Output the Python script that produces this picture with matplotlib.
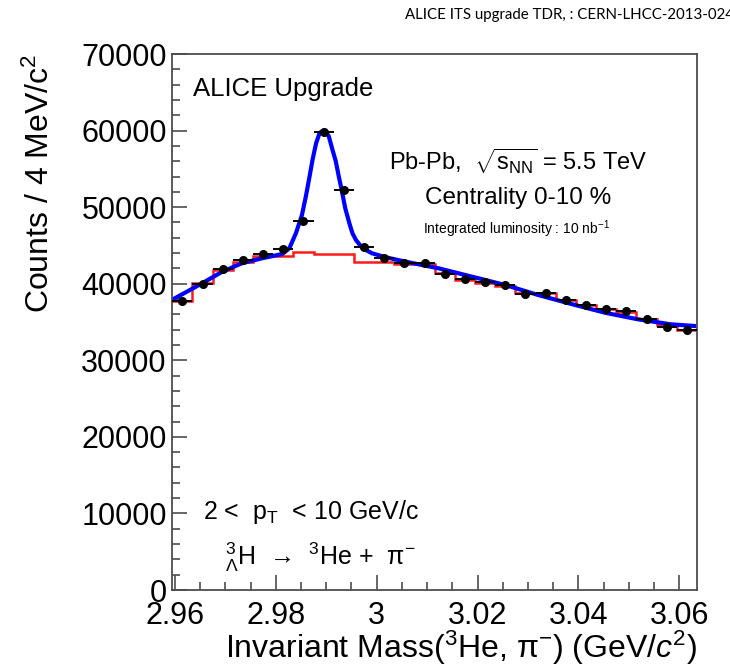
import numpy as np
import matplotlib
matplotlib.use("Agg")
import matplotlib.pyplot as plt
from matplotlib.ticker import MultipleLocator

plt.rcParams['font.family'] = ['Liberation Sans', 'DejaVu Sans']
plt.rcParams['mathtext.fontset'] = 'custom'
plt.rcParams['mathtext.rm'] = 'Liberation Sans'
plt.rcParams['mathtext.it'] = 'Liberation Sans:italic'
plt.rcParams['mathtext.sf'] = 'Liberation Sans'

# histogram binning (4 MeV bins)
x_lo = 2.9595
bin_w = 0.004
n_bins = 26

# data points (signal + background), counts per bin
data_counts = [37740, 39960, 41920, 43100, 43880, 44530, 48190, 59810, 52240,
               44795, 43360, 42710, 42710, 41330, 40620, 40220, 39830, 38660,
               38830, 37870, 37260, 36740, 36400, 35430, 34390, 33960]

# background only (red histogram)
bkg_counts = [37740, 40090, 41790, 42880, 43620, 43620, 44180, 43880, 43880,
              42880, 42800, 42540, 42540, 41400, 40480, 40130, 39700, 38830,
              38830, 37870, 37220, 36700, 36350, 35390, 34610, 33960]

# fit curve (blue)
fit_mass = [2.9596, 2.9654, 2.9694, 2.9733, 2.9773, 2.9813, 2.9827, 2.9840,
            2.9852, 2.9860, 2.9867, 2.9873, 2.9880, 2.9887, 2.9894, 2.9900,
            2.9905, 2.9912, 2.9919, 2.9925, 2.9930, 2.9938, 2.9946, 2.9952,
            2.9959, 2.9972, 2.9991, 3.0018, 3.0051, 3.0090, 3.0123, 3.0189,
            3.0255, 3.0320, 3.0386, 3.0452, 3.0518, 3.0583, 3.0630]
fit_counts = [37950, 40050, 41570, 42670, 43320, 43880, 44630, 46590,
              48980, 51500, 53980, 56200, 58340, 59700, 60000, 59700,
              59300, 57600, 56000, 54000, 52460, 49800, 47890, 46600,
              45710, 44630, 43970, 43450, 42970, 42440, 42010, 40920,
              39830, 38530, 37350, 36220, 35350, 34700, 34480]

xticks = [2.96, 2.98, 3.0, 3.02, 3.04, 3.06]
xtick_labels = ['2.96', '2.98', '3', '3.02', '3.04', '3.06']
yticks = [0, 10000, 20000, 30000, 40000, 50000, 60000, 70000]

edges = x_lo + bin_w * np.arange(n_bins + 1)
centers = 0.5 * (edges[:-1] + edges[1:])

W, H = 730, 666
fig = plt.figure(figsize=(W / 100, H / 100), dpi=100)
ax = fig.add_axes([172.3 / W, 1 - 590 / H, (697 - 172.3) / W, (590 - 54) / H])

ax.stairs(bkg_counts, edges, color='#ff1a1a', linewidth=1.8, baseline=None)
ax.plot(fit_mass, fit_counts, color='#0000ff', linewidth=3.0)
ax.errorbar(centers, data_counts, xerr=bin_w / 2, fmt='o', color='black',
            markersize=5.5, elinewidth=1.4, capsize=0, zorder=5)

ax.set_xlim(edges[0], edges[-1])
ax.set_ylim(0, 70000)
ax.set_xticks(xticks)
ax.set_xticklabels(xtick_labels)
ax.set_yticks(yticks)
ax.xaxis.set_minor_locator(MultipleLocator(0.005))
ax.yaxis.set_minor_locator(MultipleLocator(2000))
ax.tick_params(which='both', direction='in', top=False, right=False,
               color='0.3', width=1.2, labelsize=22)
ax.tick_params(which='major', length=11)
ax.tick_params(which='minor', length=5.5)
ax.tick_params(axis='x', pad=8)
ax.tick_params(axis='y', pad=4)
for s in ax.spines.values():
    s.set_color('0.3')
    s.set_linewidth(1.3)

# axis titles
fig.text(40 / W, 1 - 54 / H, r'Counts / 4 MeV/c$^{2}$', rotation=90,
         ha='center', va='top', fontsize=23)
fig.text(697 / W, 1 - 648 / H,
         r'Invariant Mass($^{3}$He, π$^{-}$) (GeV/$c^{2}$)',
         ha='right', va='center', fontsize=23)

# labels inside the frame
fig.text(193 / W, 1 - 89 / H, 'ALICE Upgrade', ha='left', va='center',
         fontsize=18.5)
fig.text(518 / W, 1 - 161 / H, r'Pb-Pb,  $\sqrt{\mathrm{s}_{\rm NN}}$ = 5.5 TeV',
         ha='center', va='center', fontsize=17)
fig.text(518 / W, 1 - 198 / H, 'Centrality 0-10 %', ha='center',
         va='center', fontsize=17.5)
fig.text(517 / W, 1 - 229 / H, r'Integrated luminosity : 10 nb$^{-1}$',
         ha='center', va='center', fontsize=10)
fig.text(203 / W, 1 - 512 / H, r'2 <  p$_{\rm T}$  < 10 GeV/c', ha='left',
         va='center', fontsize=18)
fig.text(225 / W, 1 - 557 / H,
         r'$^{3}_{\Lambda}$H  →  $^{3}$He +  π$^{-}$',
         ha='left', va='center', fontsize=18)

# source note at the top
fig.text(405 / W, 1 - 15 / H, 'ALICE ITS upgrade TDR, : CERN-LHCC-2013-024',
         ha='left', va='center', fontsize=10.8, family=['Lato', 'DejaVu Sans'])

fig.savefig('out.png', dpi=100)
